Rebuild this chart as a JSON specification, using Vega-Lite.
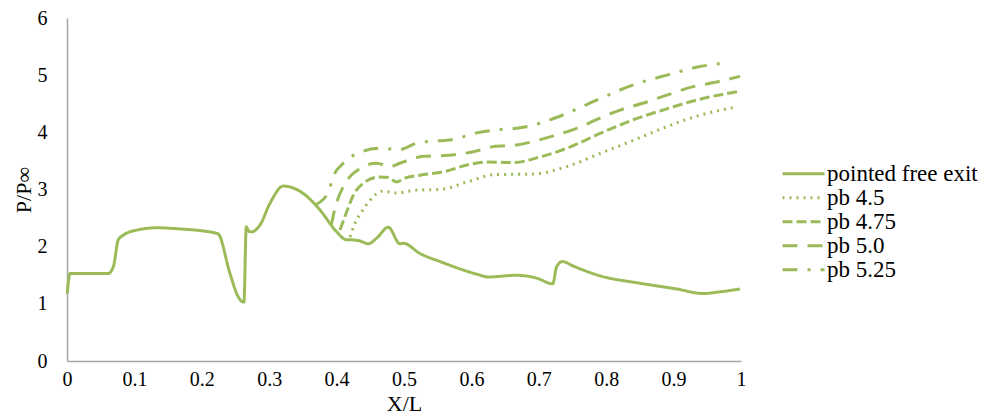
{
  "$schema": "https://vega.github.io/schema/vega-lite/v6.json",
  "width": 674,
  "height": 343,
  "autosize": {"type": "none"},
  "padding": {"left": 67, "top": 18, "right": 255, "bottom": 57},
  "background": "white",
  "config": {
    "view": {"stroke": null},
    "font": "Liberation Serif",
    "legend": {"labelFont": "Liberation Serif", "titleFont": "Liberation Serif"},
    "axis": {"grid": false, "ticks": false, "domainColor": "#a6a6a6", "domainWidth": 1.5, "labelColor": "#000000", "titleColor": "#000000", "labelFont": "Liberation Serif", "titleFont": "Liberation Serif", "titleFontWeight": "normal"}
  },
  "data": {"values": [
    {"s": "pointed free exit", "x": 0.0003, "y": 1.18},
    {"s": "pointed free exit", "x": 0.0045, "y": 1.53},
    {"s": "pointed free exit", "x": 0.0613, "y": 1.53},
    {"s": "pointed free exit", "x": 0.0687, "y": 1.65},
    {"s": "pointed free exit", "x": 0.0761, "y": 2.12},
    {"s": "pointed free exit", "x": 0.0835, "y": 2.2},
    {"s": "pointed free exit", "x": 0.1034, "y": 2.29},
    {"s": "pointed free exit", "x": 0.133, "y": 2.33},
    {"s": "pointed free exit", "x": 0.1677, "y": 2.31},
    {"s": "pointed free exit", "x": 0.2196, "y": 2.24},
    {"s": "pointed free exit", "x": 0.2245, "y": 2.22},
    {"s": "pointed free exit", "x": 0.2418, "y": 1.53},
    {"s": "pointed free exit", "x": 0.2542, "y": 1.12},
    {"s": "pointed free exit", "x": 0.2596, "y": 1.04},
    {"s": "pointed free exit", "x": 0.2625, "y": 1.03},
    {"s": "pointed free exit", "x": 0.266, "y": 2.35},
    {"s": "pointed free exit", "x": 0.2695, "y": 2.27},
    {"s": "pointed free exit", "x": 0.274, "y": 2.26},
    {"s": "pointed free exit", "x": 0.2864, "y": 2.38},
    {"s": "pointed free exit", "x": 0.3012, "y": 2.76},
    {"s": "pointed free exit", "x": 0.3209, "y": 3.06},
    {"s": "pointed free exit", "x": 0.3506, "y": 2.93},
    {"s": "pointed free exit", "x": 0.3754, "y": 2.64},
    {"s": "pointed free exit", "x": 0.4001, "y": 2.26},
    {"s": "pointed free exit", "x": 0.415, "y": 2.12},
    {"s": "pointed free exit", "x": 0.42, "y": 2.12},
    {"s": "pointed free exit", "x": 0.4347, "y": 2.1},
    {"s": "pointed free exit", "x": 0.447, "y": 2.05},
    {"s": "pointed free exit", "x": 0.4595, "y": 2.15},
    {"s": "pointed free exit", "x": 0.4767, "y": 2.34},
    {"s": "pointed free exit", "x": 0.494, "y": 2.05},
    {"s": "pointed free exit", "x": 0.499, "y": 2.06},
    {"s": "pointed free exit", "x": 0.5237, "y": 1.88},
    {"s": "pointed free exit", "x": 0.5534, "y": 1.74},
    {"s": "pointed free exit", "x": 0.6079, "y": 1.52},
    {"s": "pointed free exit", "x": 0.625, "y": 1.47},
    {"s": "pointed free exit", "x": 0.6672, "y": 1.5},
    {"s": "pointed free exit", "x": 0.6969, "y": 1.45},
    {"s": "pointed free exit", "x": 0.7206, "y": 1.35},
    {"s": "pointed free exit", "x": 0.7265, "y": 1.65},
    {"s": "pointed free exit", "x": 0.7349, "y": 1.74},
    {"s": "pointed free exit", "x": 0.7512, "y": 1.66},
    {"s": "pointed free exit", "x": 0.7908, "y": 1.49},
    {"s": "pointed free exit", "x": 0.8501, "y": 1.36},
    {"s": "pointed free exit", "x": 0.9046, "y": 1.26},
    {"s": "pointed free exit", "x": 0.9441, "y": 1.18},
    {"s": "pointed free exit", "x": 0.9688, "y": 1.21},
    {"s": "pointed free exit", "x": 0.9985, "y": 1.26},

    {"s": "pb 4.5", "x": 0.42, "y": 2.17},
    {"s": "pb 4.5", "x": 0.4273, "y": 2.41},
    {"s": "pb 4.5", "x": 0.4372, "y": 2.61},
    {"s": "pb 4.5", "x": 0.4496, "y": 2.81},
    {"s": "pb 4.5", "x": 0.4669, "y": 2.97},
    {"s": "pb 4.5", "x": 0.4892, "y": 2.94},
    {"s": "pb 4.5", "x": 0.5188, "y": 2.99},
    {"s": "pb 4.5", "x": 0.5534, "y": 3.0},
    {"s": "pb 4.5", "x": 0.593, "y": 3.13},
    {"s": "pb 4.5", "x": 0.635, "y": 3.26},
    {"s": "pb 4.5", "x": 0.6919, "y": 3.27},
    {"s": "pb 4.5", "x": 0.7414, "y": 3.4},
    {"s": "pb 4.5", "x": 0.7908, "y": 3.63},
    {"s": "pb 4.5", "x": 0.8402, "y": 3.86},
    {"s": "pb 4.5", "x": 0.8898, "y": 4.1},
    {"s": "pb 4.5", "x": 0.9392, "y": 4.3},
    {"s": "pb 4.5", "x": 0.9911, "y": 4.44},

    {"s": "pb 4.75", "x": 0.405, "y": 2.29},
    {"s": "pb 4.75", "x": 0.415, "y": 2.61},
    {"s": "pb 4.75", "x": 0.4248, "y": 2.9},
    {"s": "pb 4.75", "x": 0.4396, "y": 3.11},
    {"s": "pb 4.75", "x": 0.4644, "y": 3.22},
    {"s": "pb 4.75", "x": 0.4767, "y": 3.21},
    {"s": "pb 4.75", "x": 0.4892, "y": 3.13},
    {"s": "pb 4.75", "x": 0.499, "y": 3.19},
    {"s": "pb 4.75", "x": 0.5237, "y": 3.25},
    {"s": "pb 4.75", "x": 0.5583, "y": 3.31},
    {"s": "pb 4.75", "x": 0.598, "y": 3.44},
    {"s": "pb 4.75", "x": 0.6227, "y": 3.48},
    {"s": "pb 4.75", "x": 0.6622, "y": 3.47},
    {"s": "pb 4.75", "x": 0.7018, "y": 3.57},
    {"s": "pb 4.75", "x": 0.7414, "y": 3.72},
    {"s": "pb 4.75", "x": 0.7908, "y": 3.98},
    {"s": "pb 4.75", "x": 0.8402, "y": 4.22},
    {"s": "pb 4.75", "x": 0.8898, "y": 4.41},
    {"s": "pb 4.75", "x": 0.9392, "y": 4.58},
    {"s": "pb 4.75", "x": 0.9985, "y": 4.72},

    {"s": "pb 5.0", "x": 0.392, "y": 2.37},
    {"s": "pb 5.0", "x": 0.3976, "y": 2.67},
    {"s": "pb 5.0", "x": 0.4099, "y": 3.05},
    {"s": "pb 5.0", "x": 0.4248, "y": 3.28},
    {"s": "pb 5.0", "x": 0.4595, "y": 3.46},
    {"s": "pb 5.0", "x": 0.4792, "y": 3.4},
    {"s": "pb 5.0", "x": 0.494, "y": 3.46},
    {"s": "pb 5.0", "x": 0.5286, "y": 3.58},
    {"s": "pb 5.0", "x": 0.5657, "y": 3.6},
    {"s": "pb 5.0", "x": 0.6028, "y": 3.66},
    {"s": "pb 5.0", "x": 0.6325, "y": 3.75},
    {"s": "pb 5.0", "x": 0.6672, "y": 3.78},
    {"s": "pb 5.0", "x": 0.7166, "y": 3.92},
    {"s": "pb 5.0", "x": 0.7562, "y": 4.07},
    {"s": "pb 5.0", "x": 0.7908, "y": 4.25},
    {"s": "pb 5.0", "x": 0.8205, "y": 4.39},
    {"s": "pb 5.0", "x": 0.8601, "y": 4.53},
    {"s": "pb 5.0", "x": 0.8898, "y": 4.65},
    {"s": "pb 5.0", "x": 0.9292, "y": 4.8},
    {"s": "pb 5.0", "x": 0.9639, "y": 4.88},
    {"s": "pb 5.0", "x": 0.9985, "y": 4.98},

    {"s": "pb 5.25", "x": 0.368, "y": 2.73},
    {"s": "pb 5.25", "x": 0.3872, "y": 2.94},
    {"s": "pb 5.25", "x": 0.3951, "y": 3.23},
    {"s": "pb 5.25", "x": 0.4099, "y": 3.46},
    {"s": "pb 5.25", "x": 0.4347, "y": 3.65},
    {"s": "pb 5.25", "x": 0.4644, "y": 3.72},
    {"s": "pb 5.25", "x": 0.494, "y": 3.7},
    {"s": "pb 5.25", "x": 0.5188, "y": 3.81},
    {"s": "pb 5.25", "x": 0.5782, "y": 3.89},
    {"s": "pb 5.25", "x": 0.6079, "y": 3.99},
    {"s": "pb 5.25", "x": 0.6424, "y": 4.05},
    {"s": "pb 5.25", "x": 0.6672, "y": 4.07},
    {"s": "pb 5.25", "x": 0.7018, "y": 4.16},
    {"s": "pb 5.25", "x": 0.7414, "y": 4.33},
    {"s": "pb 5.25", "x": 0.7908, "y": 4.59},
    {"s": "pb 5.25", "x": 0.8402, "y": 4.83},
    {"s": "pb 5.25", "x": 0.8898, "y": 5.0},
    {"s": "pb 5.25", "x": 0.9392, "y": 5.15},
    {"s": "pb 5.25", "x": 0.9812, "y": 5.22}
  ]},
  "mark": {"type": "line", "strokeWidth": 3, "color": "#9BBB59", "strokeJoin": "round", "interpolate": "monotone"},
  "encoding": {
    "x": {"field": "x", "type": "quantitative", "scale": {"domain": [0, 1], "nice": false},
      "axis": {"title": "X/L", "values": [0, 0.1, 0.2, 0.3, 0.4, 0.5, 0.6, 0.7, 0.8, 0.9, 1], "format": "~g", "labelFontSize": 20, "labelPadding": 8, "titleFontSize": 22, "titlePadding": 4, "labelFlush": false}},
    "y": {"field": "y", "type": "quantitative", "scale": {"domain": [0, 6], "nice": false},
      "axis": {"title": "P/P∞", "values": [0, 1, 2, 3, 4, 5, 6], "format": "d", "labelFontSize": 20, "labelPadding": 20, "titleFontSize": 22, "titlePadding": 2, "labelFlush": false}},
    "strokeDash": {"field": "s", "type": "nominal",
      "scale": {"domain": ["pointed free exit", "pb 4.5", "pb 4.75", "pb 5.0", "pb 5.25"],
        "range": [[1, 0], [2, 5], [10, 4], [15, 10], [15, 10, 3, 10]]},
      "legend": {"title": null, "orient": "none", "legendX": 714, "legendY": 145, "padding": 0,
        "symbolType": "stroke", "symbolSize": 1764, "symbolStrokeWidth": 3, "symbolStrokeColor": "#9BBB59",
        "labelFontSize": 23, "labelFont": "Liberation Serif", "labelColor": "#000000", "labelOffset": 1,
        "clipHeight": 21.5, "rowPadding": 0, "labelLimit": 300}},
    "order": {"field": "x", "type": "quantitative"}
  }
}
